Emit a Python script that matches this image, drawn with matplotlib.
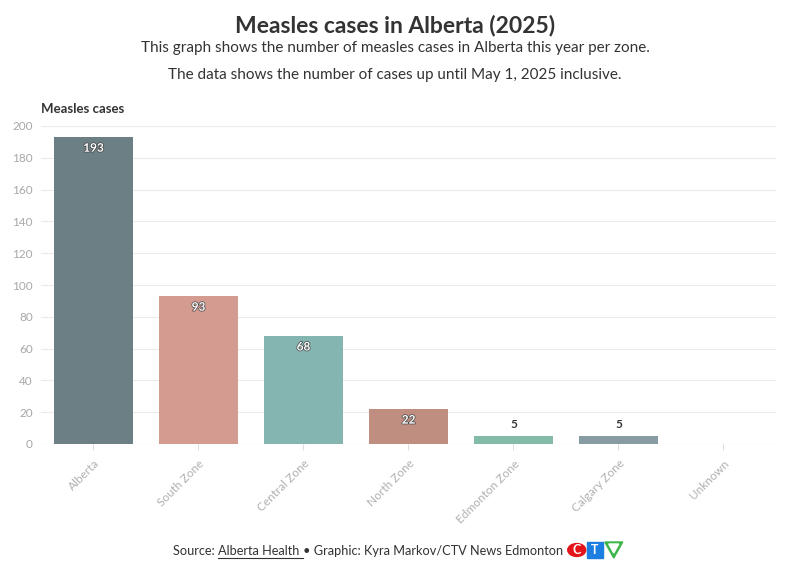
import matplotlib
matplotlib.use("Agg")
import matplotlib.pyplot as plt
import matplotlib.patheffects as pe
from matplotlib.patches import Circle, Rectangle, Polygon

categories = ["Alberta", "South Zone", "Central Zone", "North Zone", "Edmonton Zone", "Calgary Zone", "Unknown"]
values = [193, 93, 68, 22, 5, 5, 0]
colors = ["#6b7f85", "#d49b91", "#85b5b1", "#c08e80", "#84bba7", "#879ca2", "#cccccc"]
yticks = [0, 20, 40, 60, 80, 100, 120, 140, 160, 180, 200]

plt.rcParams['font.family'] = ['Lato', 'DejaVu Sans']

fig = plt.figure(figsize=(7.9, 5.66), dpi=100)
ax = fig.add_axes([41/790, 1-444/566, 735/790, 318/566])

x = list(range(len(categories)))
ax.bar(x, values, width=0.75, color=colors, zorder=3)
ax.set_xlim(-0.5, len(categories)-0.5)
ax.set_ylim(0, 200)
ax.set_yticks(yticks)
ax.grid(axis='y', color='#ebebeb', linewidth=0.8, zorder=0)
for s in ax.spines.values():
    s.set_visible(False)
ax.axhline(0, color='#e6e6e6', linewidth=0.8, zorder=2)
ax.tick_params(axis='y', length=0, labelsize=8.5, labelcolor='#a8a8a8', pad=6)
ax.tick_params(axis='x', length=4, color='#dddddd', labelsize=8.5, labelcolor='#b0b0b0', pad=6)
ax.set_xticks(x)
ax.set_xticklabels(categories, rotation=45, ha='right', rotation_mode='anchor')

for xi, v in zip(x, values):
    if v == 0:
        continue
    if v > 15:
        ax.annotate(str(v), (xi, v), xytext=(0, -8), textcoords='offset points',
                    ha='center', va='center', fontsize=8.5, fontweight='bold', color='white',
                    path_effects=[pe.withStroke(linewidth=1.0, foreground='#444444')], zorder=5)
    else:
        ax.annotate(str(v), (xi, v), xytext=(0, 8), textcoords='offset points',
                    ha='center', va='center', fontsize=8.5, fontweight='bold', color='#333333', zorder=5)

fig.text(0.5, 1-25/566, "Measles cases in Alberta (2025)", ha='center', va='center',
         fontsize=16.5, fontweight='bold', color='#333333')
fig.text(0.5, 1-48/566, "This graph shows the number of measles cases in Alberta this year per zone.",
         ha='center', va='center', fontsize=11, color='#333333')
fig.text(0.5, 1-75/566, "The data shows the number of cases up until May 1, 2025 inclusive.",
         ha='center', va='center', fontsize=11, color='#333333')
fig.text(41/790, 1-109/566, "Measles cases", ha='left', va='center', fontsize=9.5,
         fontweight='bold', color='#333333')

# source line
fs = 9.2
t1 = fig.text(173/790, 1-551/566, "Source: ", ha='left', va='center', fontsize=fs, color='#333333')
fig.canvas.draw()
r = fig.canvas.get_renderer()
bb = t1.get_window_extent(r)
t2 = fig.text(bb.x1/790, 1-551/566, "Alberta Health ", ha='left', va='center', fontsize=fs, color='#333333')
bb2 = t2.get_window_extent(r)
fig.add_artist(plt.Line2D([bb2.x0/790, bb2.x1/790], [1-558/566, 1-558/566], color='#333333', linewidth=0.8))
t3 = fig.text(bb2.x1/790, 1-551/566, "• Graphic: Kyra Markov/CTV News Edmonton", ha='left', va='center',
              fontsize=fs, color='#333333')
bb3 = t3.get_window_extent(r)
lx = bb3.x1 + 5
ly = 566 - 550
# CTV logo
fig.add_artist(Circle(((lx+9)/790, ly/566), 9/790, transform=fig.transFigure, color='#e3151a'))
fig.text((lx+9)/790, ly/566, "C", ha='center', va='center', fontsize=9, fontweight='bold', color='white')
fig.add_artist(Rectangle(((lx+19)/790, (ly-8)/566), 16/790, 16/566, transform=fig.transFigure, color='#1b7ee0'))
fig.text((lx+27)/790, ly/566, "T", ha='center', va='center', fontsize=9, fontweight='bold', color='white')
fig.add_artist(Polygon([((lx+37)/790, (ly+8)/566), ((lx+55)/790, (ly+8)/566), ((lx+46)/790, (ly-8)/566)],
                       closed=True, transform=fig.transFigure, color='#3cb54a'))
fig.add_artist(Polygon([((lx+41)/790, (ly+6)/566), ((lx+51)/790, (ly+6)/566), ((lx+46)/790, (ly-3)/566)],
                       closed=True, transform=fig.transFigure, color='white'))

fig.savefig("out.png", dpi=100, facecolor='white')
